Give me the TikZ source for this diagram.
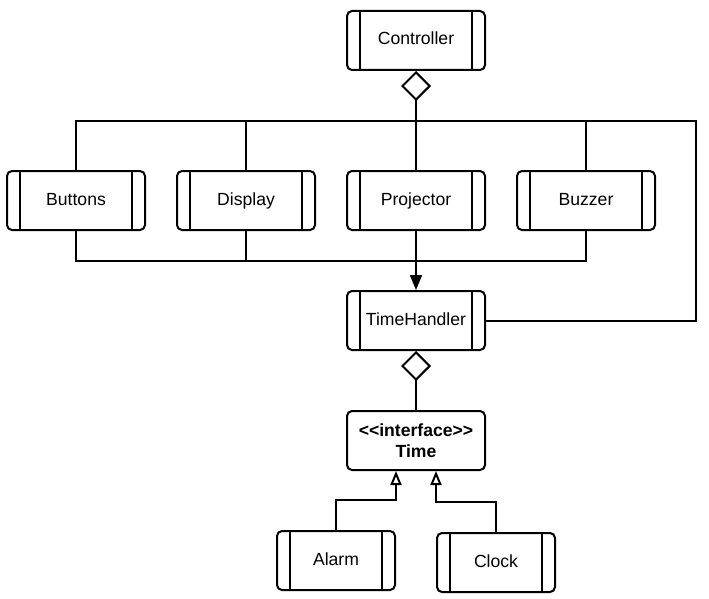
\documentclass[tikz,border=0pt]{standalone}
\usepackage{fontspec}
\setmainfont{Liberation Sans}
\usetikzlibrary{arrows.meta}

\begin{document}
\begin{tikzpicture}[x=1pt, y=-1pt, line width=2pt,
        cls/.style={rectangle, draw, rounded corners=5pt, minimum width=138pt,
        minimum height=59pt, inner sep=0pt, text height=12.7pt, text depth=3.7pt,
        font=\fontsize{17.6}{21}\selectfont,
        path picture={\draw[sharp corners]
            ([xshift=13pt]path picture bounding box.north west) -- ([xshift=13pt]path picture bounding box.south west)
            ([xshift=-13pt]path picture bounding box.north east) -- ([xshift=-13pt]path picture bounding box.south east);}},
        small/.style={cls, minimum width=118pt},
        iface/.style={rectangle, draw, rounded corners=5pt, minimum width=138pt,
        minimum height=59pt, inner sep=0pt, align=center,
        font=\fontsize{17.6}{21}\selectfont\bfseries},
        agg/.style={{Diamond[open,length=30pt,width=30pt]}-},
        gen/.style={-{Triangle[open,length=14pt,width=11pt]}},
        >={Triangle[length=15pt,width=12pt]}]

        \useasboundingbox (0,0) rectangle (709,599);

        \node[cls] (ctrl) at (416,40.5) {Controller};
        \node[cls] (buttons) at (76,200.5) {Buttons};
        \node[cls] (display) at (246,200.5) {Display};
        \node[cls] (proj) at (416,200.5) {Projector};
        \node[cls] (buzzer) at (586,200.5) {Buzzer};
        \node[cls] (th) at (416,320.5) {TimeHandler};
        \node[iface] (time) at (416,440.5) {<\kern0pt<interface>\kern0pt>\\Time};
        \node[small] (alarm) at (336,560.5) {Alarm};
        \node[small] (clock) at (496,562.5) {Clock};

        \coordinate (bus) at (696,121);
        \coordinate (base) at (416,261);

        % top bus
        \draw[agg] (ctrl.south) -- (ctrl.south |- bus);
        \draw (buttons.north) |- (bus) |- (th.east);
        \draw (display.north) -- (display.north |- bus);
        \draw (proj.north) -- (proj.north |- bus);
        \draw (buzzer.north) -- (buzzer.north |- bus);

        % bottom bus
        \draw (buttons.south) |- (base) -| (buzzer.south);
        \draw (display.south) -- (display.south |- base);
        \draw[->] (proj.south) -- (th.north);

        \draw[agg] (th.south) -- (time.north);
        \draw[gen] (alarm.north) -- ++(0,-30) -| ([xshift=-20pt]time.south);
        \draw[gen] (clock.north) -- ++(0,-30.5) -| ([xshift=20pt]time.south);

    \end{tikzpicture}
\end{document}
